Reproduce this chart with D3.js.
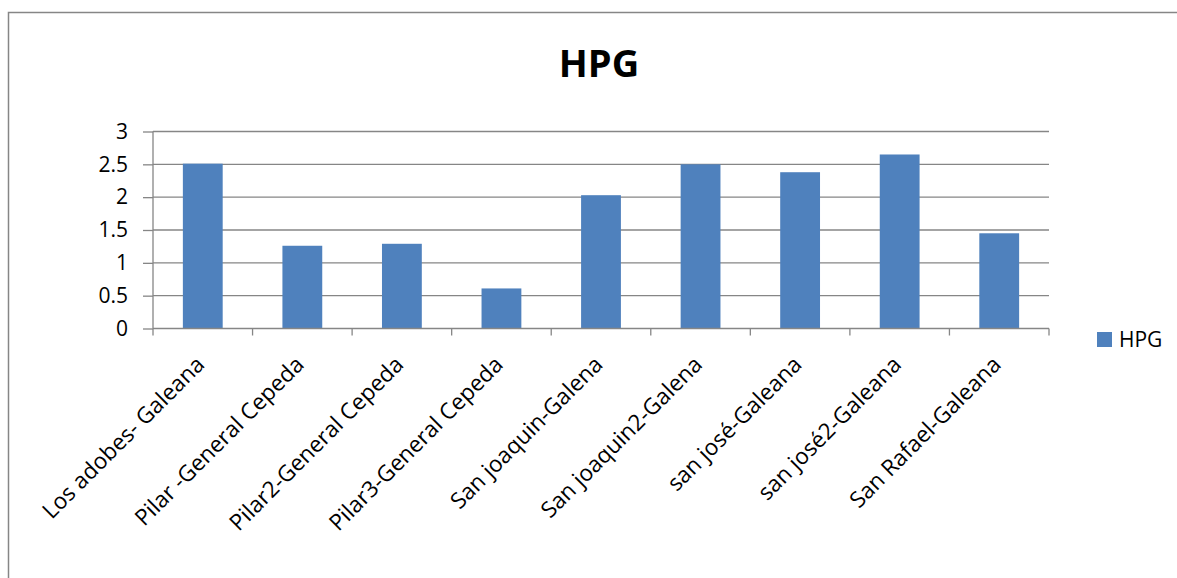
<!DOCTYPE html>
<html>
<head>
<meta charset="utf-8">
<script src="https://cdn.jsdelivr.net/npm/d3@7"></script>
<style>
  body { margin: 0; background: #fff; }
  text { font-family: "Open Sans", sans-serif; fill: #000; }
</style>
</head>
<body>
<svg id="chart" width="1177" height="578"></svg>
<script>
// sites on the x axis
var sites = [
    "Los adobes- Galeana",
    "Pilar -General Cepeda",
    "Pilar2-General Cepeda",
    "Pilar3-General Cepeda",
    "San joaquin-Galena",
    "San joaquin2-Galena",
    "san josé-Galeana",
    "san josé2-Galeana",
    "San Rafael-Galeana"
];
// HPG value per site
var hpg = [2.51, 1.26, 1.29, 0.61, 2.03, 2.5, 2.38, 2.65, 1.45];
var yTicks = [0, 0.5, 1, 1.5, 2, 2.5, 3];

var svg = d3.select("#chart");
var gray = "#868686";

// outer frame of the chart (right and bottom run off the picture)
svg.append("rect")
    .attr("x", 8.5)
    .attr("y", 12.5)
    .attr("width", 1200)
    .attr("height", 600)
    .style("fill", "none")
    .style("stroke", gray)
    .style("stroke-width", 1.5);

var x = d3.scaleBand()
    .domain(sites)
    .range([153, 1049])
    .paddingInner(0.6)
    .paddingOuter(0.3);

var y = d3.scaleLinear()
    .domain([0, 3])
    .range([328.5, 131.5]);

// horizontal grid lines
svg.selectAll(".grid")
    .data(yTicks.filter(function(d) { return d > 0; }))
    .enter().append("line")
    .attr("class", "grid")
    .attr("x1", 153)
    .attr("x2", 1049)
    .attr("y1", function(d) { return y(d); })
    .attr("y2", function(d) { return y(d); })
    .style("stroke", gray)
    .style("stroke-width", 1.3);

// y axis
var yAxis = svg.append("g")
    .attr("transform", "translate(153,0)")
    .call(d3.axisLeft(y).tickValues(yTicks).tickSize(10).tickPadding(15)
        .tickFormat(function(d) { return d; }));
yAxis.select(".domain").remove();
yAxis.append("line")
    .attr("x1", 0).attr("x2", 0)
    .attr("y1", y(3)).attr("y2", y(0));
yAxis.selectAll("line").style("stroke", gray).style("stroke-width", 1.3);
yAxis.selectAll("text")
    .style("font-family", "Open Sans")
    .style("font-size", "21px")
    .style("fill", "#000");

// bars
svg.selectAll(".bar")
    .data(hpg)
    .enter().append("rect")
    .attr("class", "bar")
    .attr("x", function(d, i) { return x(sites[i]); })
    .attr("y", function(d) { return y(d); })
    .attr("width", x.bandwidth())
    .attr("height", function(d) { return y(0) - y(d); })
    .style("fill", "#4f81bd");

// x axis line and ticks at band edges
svg.append("line")
    .attr("x1", 153).attr("x2", 1049)
    .attr("y1", y(0)).attr("y2", y(0))
    .style("stroke", gray).style("stroke-width", 1.3);

var edges = sites.map(function(s) { return x(s) - x.step() * 0.3; });
edges.push(1049);
svg.selectAll(".xtick")
    .data(edges)
    .enter().append("line")
    .attr("class", "xtick")
    .attr("x1", function(d) { return d; })
    .attr("x2", function(d) { return d; })
    .attr("y1", y(0))
    .attr("y2", y(0) + 7)
    .style("stroke", gray)
    .style("stroke-width", 1.3);

// rotated category labels
svg.selectAll(".xlabel")
    .data(sites)
    .enter().append("text")
    .attr("class", "xlabel")
    .attr("transform", function(d) {
        return "translate(" + (x(d) + x.bandwidth() / 2 + 3) + "," + 366 + ") rotate(-45)";
    })
    .attr("text-anchor", "end")
    .style("font-size", "22.5px")
    .text(function(d) { return d; });

// title
svg.append("text")
    .attr("x", 599)
    .attr("y", 77)
    .attr("text-anchor", "middle")
    .style("font-size", "38px")
    .style("font-weight", "bold")
    .text("HPG");

// legend
svg.append("rect")
    .attr("x", 1097)
    .attr("y", 332)
    .attr("width", 15)
    .attr("height", 15)
    .style("fill", "#4f81bd");

svg.append("text")
    .attr("x", 1119)
    .attr("y", 347)
    .style("font-size", "21px")
    .text("HPG");
</script>
</body>
</html>
